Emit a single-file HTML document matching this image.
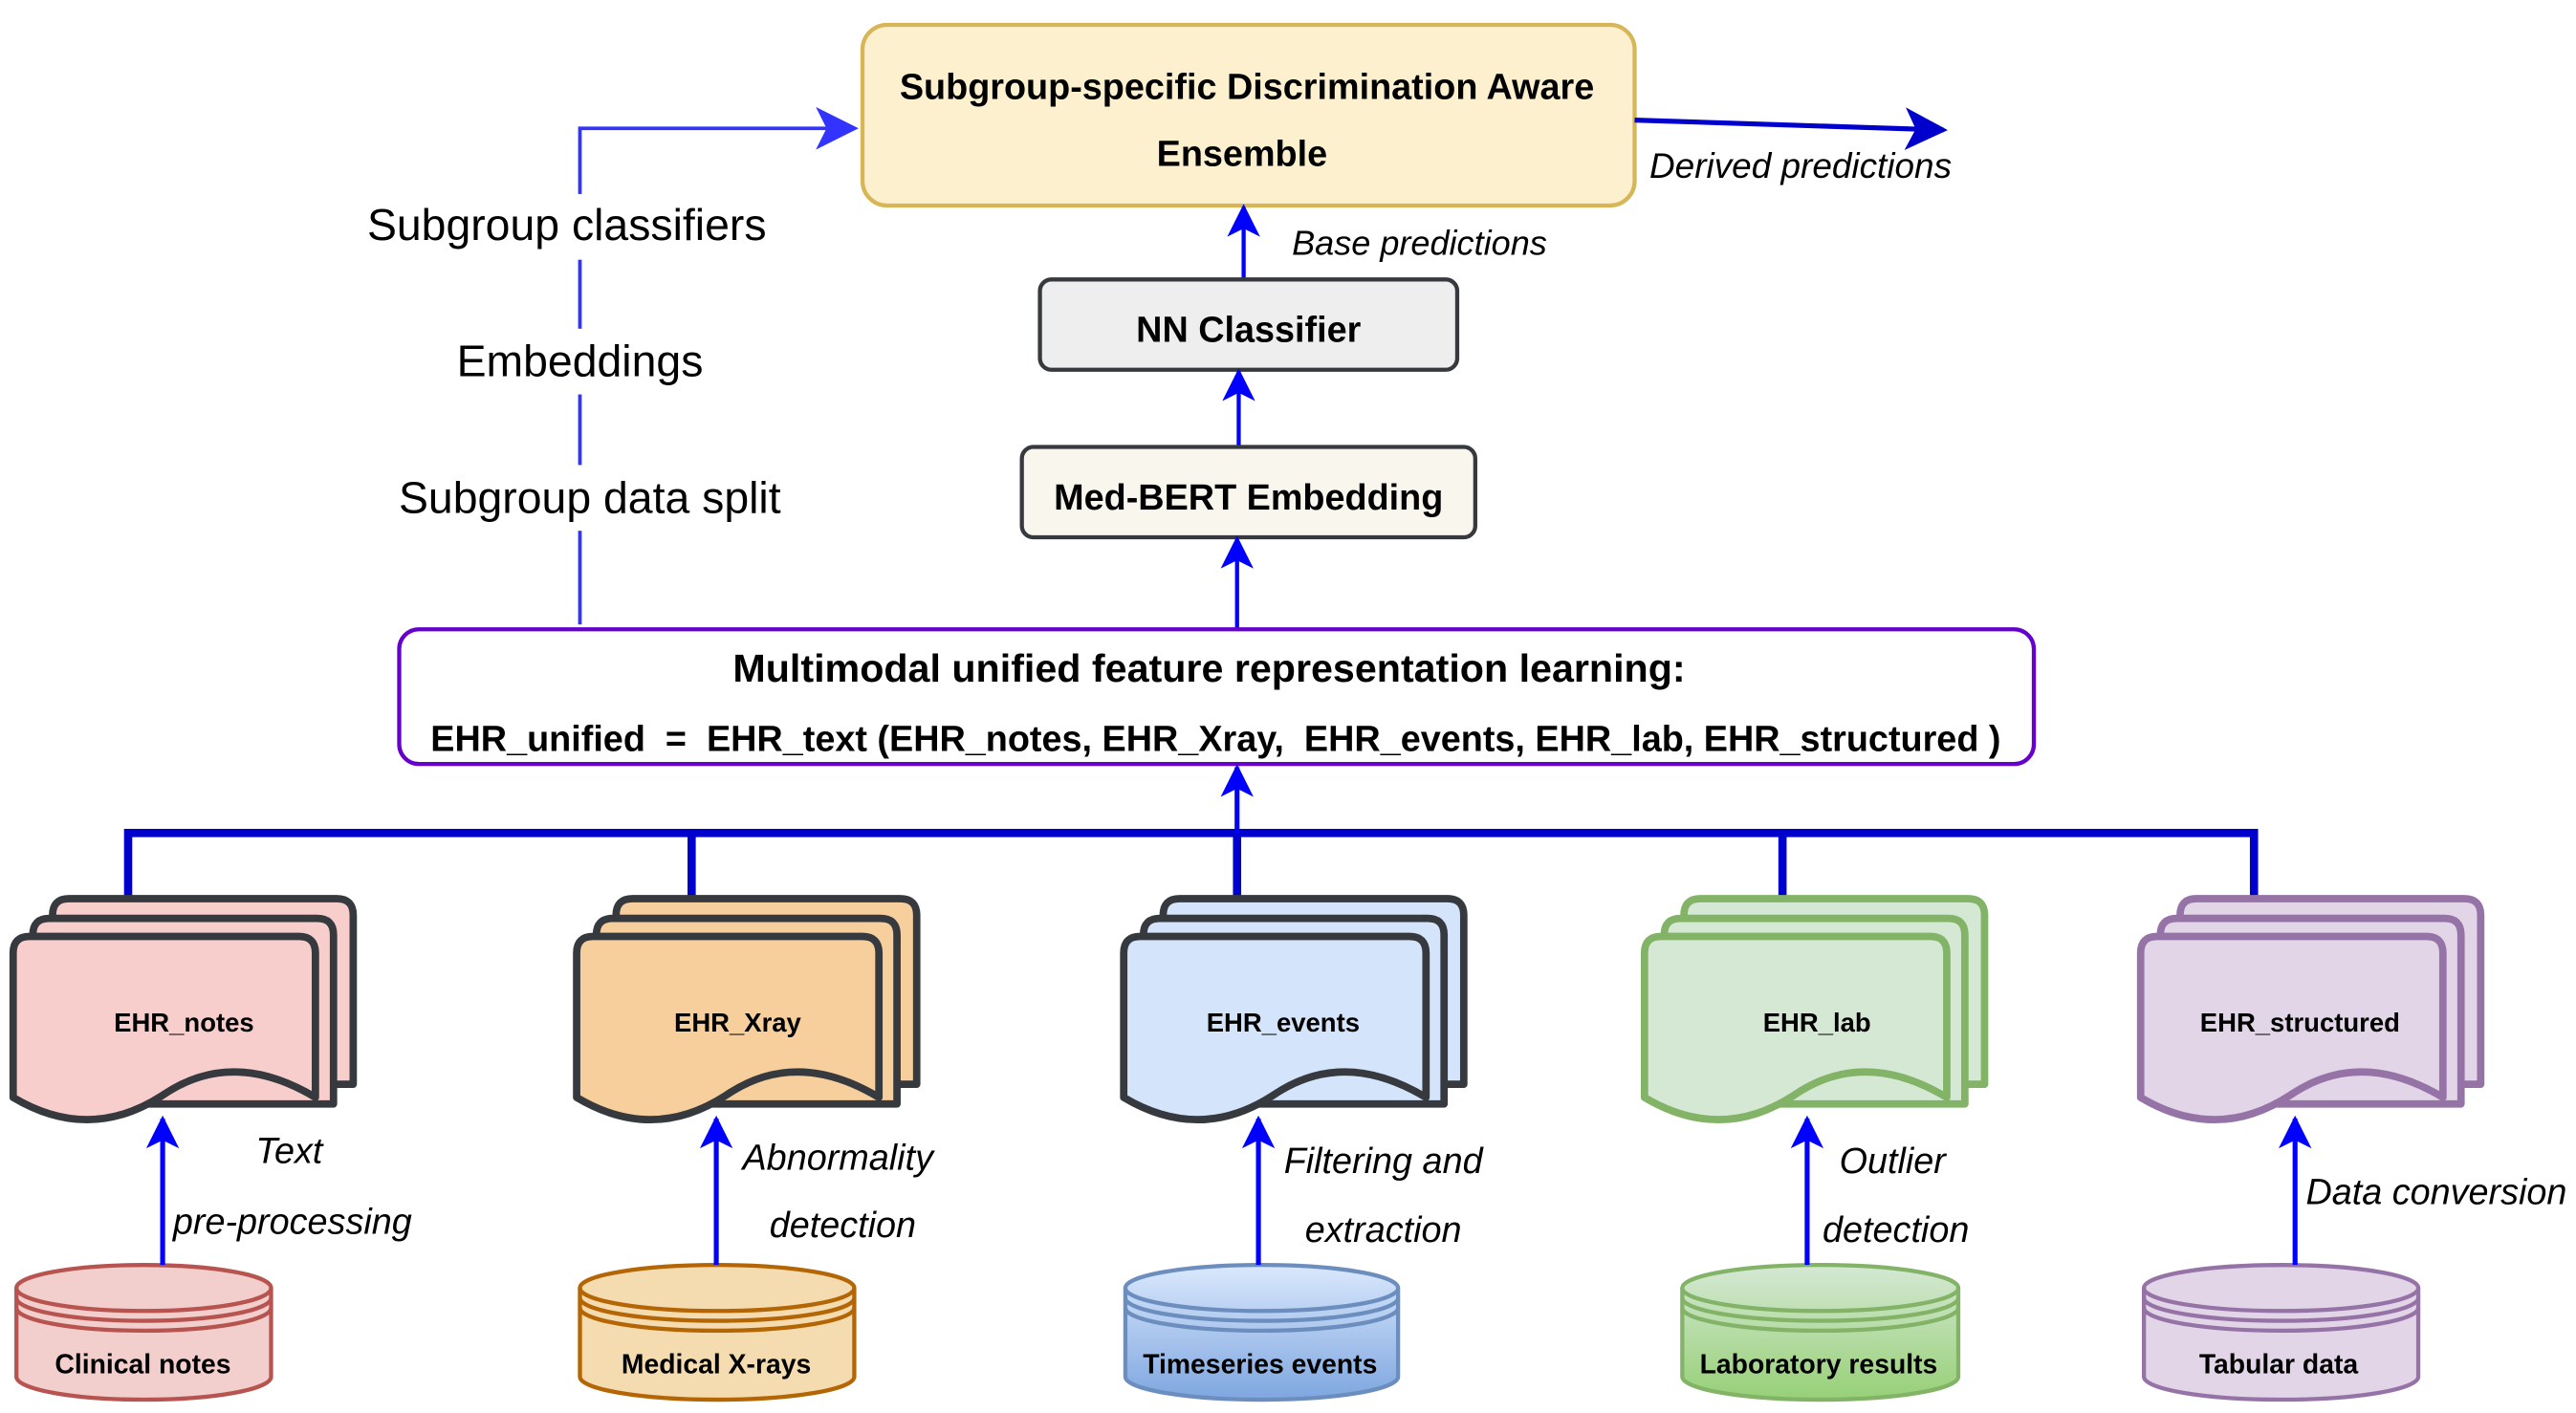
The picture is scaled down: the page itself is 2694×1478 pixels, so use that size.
<!DOCTYPE html>
<html><head><meta charset="utf-8"><style>html,body{margin:0;padding:0;background:#fff}svg{display:block}</style></head>
<body>
<svg width="2694" height="1478" viewBox="0 0 1568 860" xmlns="http://www.w3.org/2000/svg" font-family="Liberation Sans, sans-serif">
<defs>
<marker id="ab" viewBox="0 0 20 20" refX="18" refY="10" markerWidth="20" markerHeight="20" markerUnits="userSpaceOnUse" orient="auto"><path d="M0,0 L20,10 L0,20 L5,10 Z" fill="#0000ff"/></marker>
<marker id="ab2" viewBox="0 0 20 20" refX="18" refY="10" markerWidth="26" markerHeight="26" markerUnits="userSpaceOnUse" orient="auto"><path d="M0,0 L20,10 L0,20 L5,10 Z" fill="#3333ff"/></marker>
<marker id="ab3" viewBox="0 0 20 20" refX="18" refY="10" markerWidth="26" markerHeight="26" markerUnits="userSpaceOnUse" orient="auto"><path d="M0,0 L20,10 L0,20 L5,10 Z" fill="#0000cc"/></marker>
<linearGradient id="gb" x1="0" y1="0" x2="0" y2="1"><stop offset="0" stop-color="#dae8fc"/><stop offset="1" stop-color="#7ea6e0"/></linearGradient>
<linearGradient id="gg" x1="0" y1="0" x2="0" y2="1"><stop offset="0" stop-color="#d5e8d4"/><stop offset="1" stop-color="#97d077"/></linearGradient>
<g id="stk">
<path d="M32,557 q0,-10 10,-10 h163 q10,0 10,10 v103 L60,660 z"/>
<path d="M20,569 q0,-10 10,-10 h163 q10,0 10,10 v103 L48,672 z"/>
<path d="M8,580 q0,-10 10,-10 h164 q10,0 10,10 v88 q-50,-30 -92,-2 q-45,30 -92,2 z"/>
</g>
</defs>

<rect x="525" y="15" width="470" height="110" rx="15" fill="#fcf0cf" stroke="#d6b656" stroke-width="2.5"/>
<text x="759" y="60" font-size="22" font-weight="bold" text-anchor="middle">Subgroup-specific Discrimination Aware</text>
<text x="756" y="101" font-size="22" font-weight="bold" text-anchor="middle">Ensemble</text>
<line x1="995" y1="73" x2="1183" y2="79" stroke="#0000cc" stroke-width="3" marker-end="url(#ab3)"/>
<text x="1096" y="108" font-size="21.5" font-style="italic" text-anchor="middle">Derived predictions</text>

<path d="M353,380 L353,78 L520,78" fill="none" stroke="#3333ff" stroke-width="2.2" marker-end="url(#ab2)"/>
<rect x="210" y="118" width="280" height="40" fill="#fff"/>
<rect x="250" y="200" width="210" height="40" fill="#fff"/>
<rect x="220" y="283" width="280" height="40" fill="#fff"/>
<text x="345" y="146" font-size="27" text-anchor="middle">Subgroup classifiers</text>
<text x="353" y="229" font-size="27" text-anchor="middle">Embeddings</text>
<text x="359" y="312" font-size="27" text-anchor="middle">Subgroup data split</text>

<line x1="757" y1="170" x2="757" y2="126" stroke="#0000ff" stroke-width="2.5" marker-end="url(#ab)"/>
<text x="864" y="155" font-size="21" font-style="italic" text-anchor="middle">Base predictions</text>
<rect x="633" y="170" width="254" height="55" rx="7" fill="#eeeeee" stroke="#36393d" stroke-width="2.5"/>
<text x="760" y="208" font-size="22" font-weight="bold" text-anchor="middle">NN Classifier</text>
<line x1="754" y1="272" x2="754" y2="226" stroke="#0000ff" stroke-width="2.5" marker-end="url(#ab)"/>
<rect x="622" y="272" width="276" height="55" rx="7" fill="#f9f7ed" stroke="#36393d" stroke-width="2.5"/>
<text x="760" y="310" font-size="22" font-weight="bold" text-anchor="middle">Med-BERT Embedding</text>
<line x1="753" y1="382" x2="753" y2="328" stroke="#0000ff" stroke-width="2.5" marker-end="url(#ab)"/>

<rect x="243" y="383" width="995" height="82" rx="12" fill="#fff" stroke="#6600cc" stroke-width="2.5"/>
<text x="736" y="415" font-size="24" font-weight="bold" text-anchor="middle">Multimodal unified feature representation learning:</text>
<text x="740" y="457" font-size="22" font-weight="bold" text-anchor="middle" xml:space="preserve">EHR_unified  =  EHR_text (EHR_notes, EHR_Xray,  EHR_events, EHR_lab, EHR_structured )</text>

<path d="M78,547 L78,507 L1372,507 L1372,547 M421,507 L421,547 M753,507 L753,547 M1085,507 L1085,547" fill="none" stroke="#0000cc" stroke-width="5"/>
<line x1="753" y1="507" x2="753" y2="467" stroke="#0000ff" stroke-width="3" marker-end="url(#ab)"/>

<g stroke-width="4.5" stroke-linejoin="round">
<use href="#stk" fill="#f8cecc" stroke="#36393d"/>
<use href="#stk" fill="#f7cf9d" stroke="#36393d" transform="translate(343,0)"/>
<use href="#stk" fill="#d4e4fb" stroke="#36393d" transform="translate(676,0)"/>
<use href="#stk" fill="#d5e8d4" stroke="#82b366" transform="translate(993,0)"/>
<use href="#stk" fill="#e1d5e7" stroke="#9673a6" transform="translate(1295,0)"/>
</g>
<g font-size="16" font-weight="bold" text-anchor="middle">
<text x="112" y="628">EHR_notes</text>
<text x="449" y="628">EHR_Xray</text>
<text x="781" y="628">EHR_events</text>
<text x="1106" y="628">EHR_lab</text>
<text x="1400" y="628">EHR_structured</text>
</g>

<g stroke-width="2.5">
<g fill="#f2cfcd" stroke="#b85450">
<path d="M10,784 a77.5,14 0 0 1 155,0 v54 a77.5,14 0 0 1 -155,0 z"/>
<path d="M10,784 a77.5,14 0 0 0 155,0 M10,790 a77.5,14 0 0 0 155,0 M10,796 a77.5,14 0 0 0 155,0" fill="none"/>
</g>
<g fill="#f5dbb0" stroke="#b46504">
<path d="M353,784 a83.5,14 0 0 1 167,0 v54 a83.5,14 0 0 1 -167,0 z"/>
<path d="M353,784 a83.5,14 0 0 0 167,0 M353,790 a83.5,14 0 0 0 167,0 M353,796 a83.5,14 0 0 0 167,0" fill="none"/>
</g>
<g fill="url(#gb)" stroke="#6c8ebf">
<path d="M685,784 a83,14 0 0 1 166,0 v54 a83,14 0 0 1 -166,0 z"/>
<path d="M685,784 a83,14 0 0 0 166,0 M685,790 a83,14 0 0 0 166,0 M685,796 a83,14 0 0 0 166,0" fill="none"/>
</g>
<g fill="url(#gg)" stroke="#82b366">
<path d="M1024,784 a84,14 0 0 1 168,0 v54 a84,14 0 0 1 -168,0 z"/>
<path d="M1024,784 a84,14 0 0 0 168,0 M1024,790 a84,14 0 0 0 168,0 M1024,796 a84,14 0 0 0 168,0" fill="none"/>
</g>
<g fill="#e1d5e7" stroke="#9673a6">
<path d="M1305,784 a83.5,14 0 0 1 167,0 v54 a83.5,14 0 0 1 -167,0 z"/>
<path d="M1305,784 a83.5,14 0 0 0 167,0 M1305,790 a83.5,14 0 0 0 167,0 M1305,796 a83.5,14 0 0 0 167,0" fill="none"/>
</g>
</g>
<g font-size="16.5" font-weight="bold" text-anchor="middle">
<text x="87" y="836">Clinical notes</text>
<text x="436" y="836">Medical X-rays</text>
<text x="767" y="836">Timeseries events</text>
<text x="1107" y="836">Laboratory results</text>
<text x="1387" y="836">Tabular data</text>
</g>

<g stroke="#0000ff" stroke-width="3">
<line x1="99" y1="770" x2="99" y2="681" marker-end="url(#ab)"/>
<line x1="436" y1="770" x2="436" y2="681" marker-end="url(#ab)"/>
<line x1="766" y1="770" x2="766" y2="681" marker-end="url(#ab)"/>
<line x1="1100" y1="770" x2="1100" y2="681" marker-end="url(#ab)"/>
<line x1="1397" y1="770" x2="1397" y2="681" marker-end="url(#ab)"/>
</g>
<g font-size="22" font-style="italic" text-anchor="middle">
<text x="176" y="708">Text</text>
<text x="178" y="751">pre-processing</text>
<text x="510" y="712">Abnormality</text>
<text x="513" y="753">detection</text>
<text x="842" y="714">Filtering and</text>
<text x="842" y="756">extraction</text>
<text x="1152" y="714">Outlier</text>
<text x="1154" y="756">detection</text>
<text x="1483" y="733">Data conversion</text>
</g>
</svg>
</body></html>
